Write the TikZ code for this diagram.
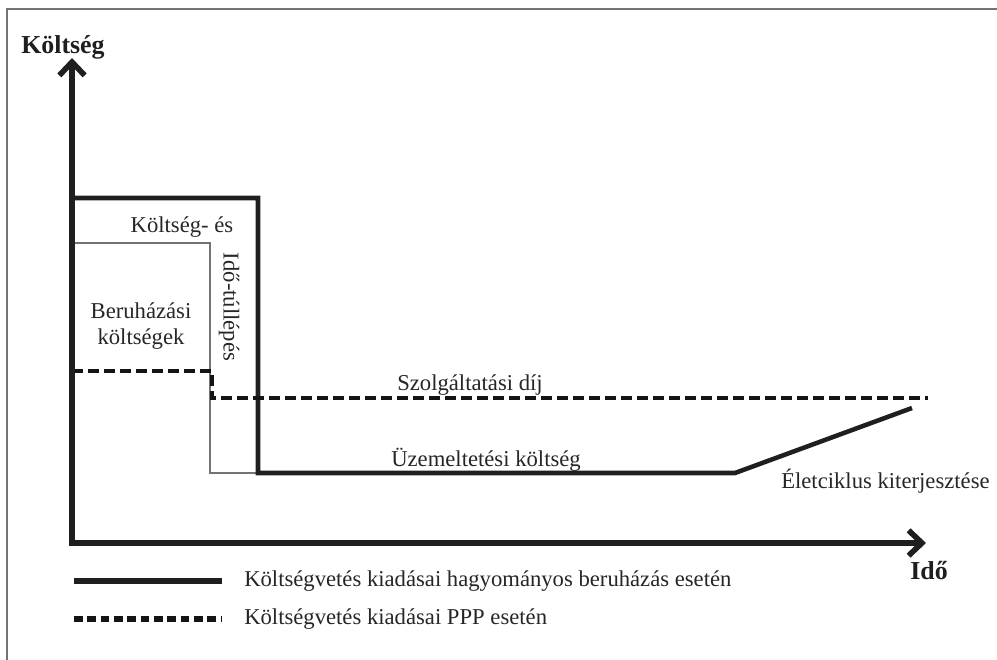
\documentclass[tikz,border=0pt]{standalone}
\usepackage{fontspec}
\setmainfont{Liberation Serif}
\usetikzlibrary{arrows.meta}
\begin{document}
\begin{tikzpicture}[x=0.75pt,y=-0.75pt,
  frame/.style={draw=black!55,line width=1.2pt},
  axis/.style={draw=black!88,line width=4.2pt,-{Straight Barb[length=10pt,width=19pt]}},
  trad/.style={draw=black!88,line width=3.4pt,line join=miter},
  thin/.style={draw=black!55,line width=0.8pt},
  ppp/.style={draw=black!92,line width=3pt,dash pattern=on 8pt off 4pt},
  lbl/.style={font=\fontsize{17}{19}\selectfont,text=black!85,inner sep=0pt},
  axlbl/.style={font=\fontsize{19.4}{21}\selectfont\bfseries,text=black!88,inner sep=0pt}]
\useasboundingbox (0,0) rectangle (997,660);
% frame edges
\draw[frame] (7,660) -- (7,9) -- (997,9);

% coordinates
\coordinate (o) at (72,543);
\coordinate (ytop) at (72,58);
\coordinate (xend) at (926,543);

% traditional investment spending
\coordinate (t1) at (72,198);
\coordinate (t2) at (258,198);
\coordinate (t3) at (258,473);
\coordinate (t4) at (735,473);
\coordinate (t5) at (912,408);
% cost and time overrun box
\coordinate (g1) at (72,243);
\coordinate (g2) at (210,243);
\coordinate (g3) at (210,473);
% PPP spending
\coordinate (p1) at (72,371);
\coordinate (p2) at (212,371);
\coordinate (p3) at (212,398);
\coordinate (p4) at (928,398);

\draw[thin] (g1) -- (g2) -- (g3) -- (t3);
\draw[trad] (t1) -- (t2) -- (t3) -- (t4) -- (t5);
\draw[ppp] (p1) -- (p2) -- (p3) -- (p4);

% axes
\draw[axis] (o) -- (ytop);
\draw[axis] ([xshift=-2.1pt]o) -- (xend);

\node[axlbl,anchor=west] (ylab) at (21,47) {Költség};
\node[axlbl] (xlab) at (929,571) {Idő};

\node[lbl] (over1) at (182,227) {Költség- és};
\node[lbl,rotate=-90] (over2) at (229,307) {Idő-túllépés};
\node[lbl,align=center] (inv) at (141,326) {Beruházási\\[1pt]költségek};
\node[lbl] (fee) at (470,385) {Szolgáltatási díj};
\node[lbl] (op) at (486,460) {Üzemeltetési költség};
\node[lbl,anchor=west] (life) at (781,481) {Életciklus kiterjesztése};

% legend
\coordinate (l1a) at (74,581);
\coordinate (l1b) at (222,581);
\coordinate (l2a) at (74,619);
\coordinate (l2b) at (222,619);
\draw[trad,line width=4.2pt] (l1a) -- (l1b);
\draw[draw=black!92,line width=4.5pt,dash pattern=on 6.5pt off 3.5pt] (l2a) -- (l2b);
\node[lbl,anchor=west] (leg1) at (244,581) {Költségvetés kiadásai hagyományos beruházás esetén};
\node[lbl,anchor=west] (leg2) at (244,619) {Költségvetés kiadásai PPP esetén};
\end{tikzpicture}
\end{document}
